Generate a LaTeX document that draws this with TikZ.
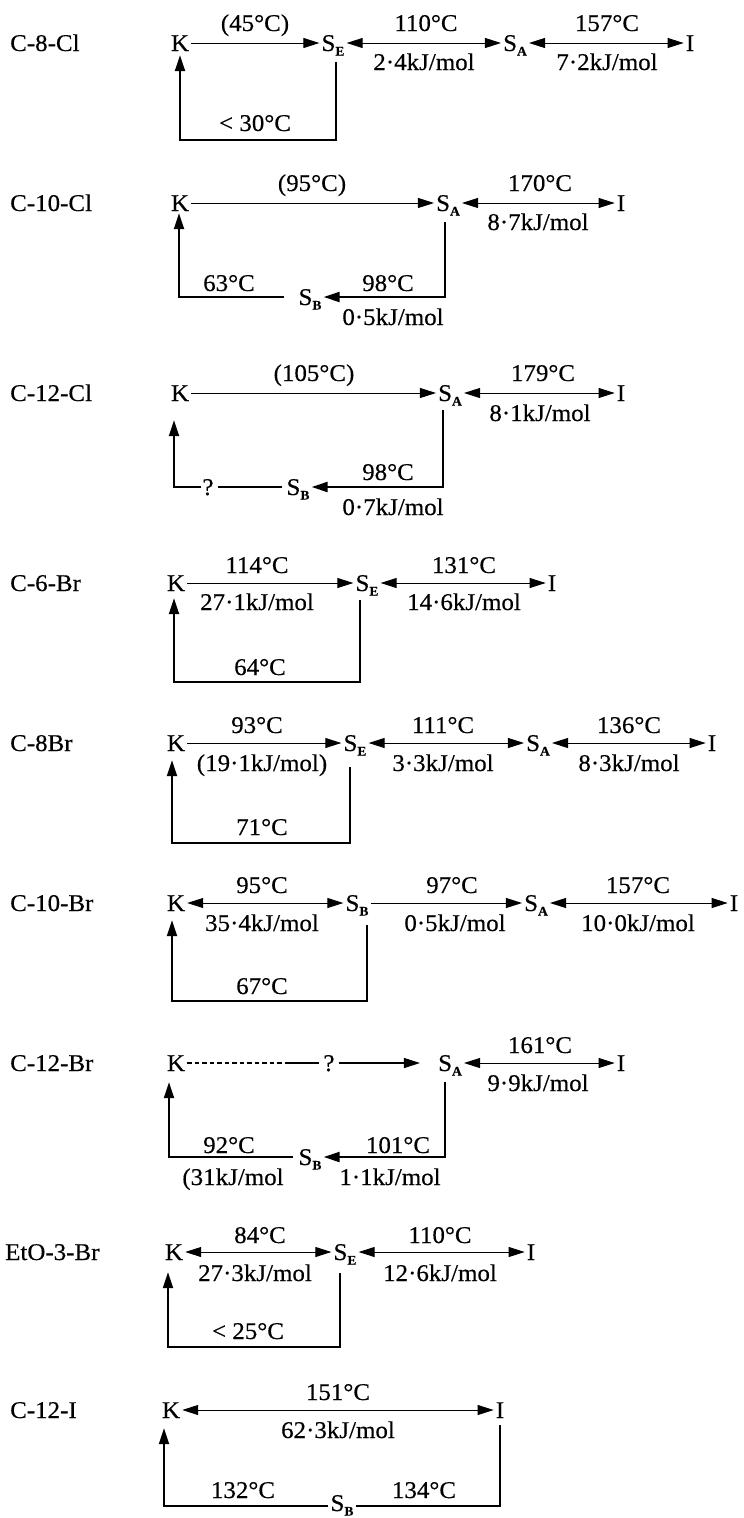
\documentclass[tikz,border=0pt]{standalone}
\usepackage{fontspec}
\setmainfont{Liberation Serif}[FakeBold=0.4, FakeStretch=1.04]
\usetikzlibrary{arrows.meta}
\newcommand{\St}[1]{S\raisebox{-4.5pt}{\fontsize{13}{13}\selectfont\bfseries #1}}
\tikzset{
  tx/.style={font=\fontsize{24}{24}\selectfont, text height=16pt, text depth=0pt, inner sep=2pt},
  lab/.style={tx, anchor=west, inner sep=0pt},
  tri/.tip={Triangle[length=16pt,width=10pt]},
  harr/.style={line width=0.9pt, -tri},
  darr/.style={line width=0.9pt, tri-tri},
  thk/.style={line width=2.2pt},
  thkarr/.style={line width=2.2pt, -tri},
}
\begin{document}
\begin{tikzpicture}[x=1pt,y=-1pt]
\useasboundingbox (0,0) rectangle (744,1518);
% ---------- Row 1: C-8-Cl ----------
\node[lab] (L1) at (10,43) {C-8-Cl};
\node[tx] (K1) at (180,43) {K};
\node[tx] (SE1) at (333,43) {\St{E}};
\node[tx] (SA1) at (515,43) {\St{A}};
\node[tx] (I1) at (690,43) {I};
\draw[harr] (K1) -- (SE1);
\draw[darr] (SE1) -- (SA1);
\draw[darr] (SA1) -- (I1);
\node[tx] (t1a) at (255,23) {(45°C)};
\node[tx] (t1b) at (426,23) {110°C};
\node[tx] (t1c) at (424,62) {2·4kJ/mol};
\node[tx] (t1d) at (607,23) {157°C};
\node[tx] (t1e) at (607,62) {7·2kJ/mol};
\coordinate (b1r) at (336,140);
\coordinate (b1l) at (180,140);
\draw[thkarr, shorten <=9pt, shorten >=2pt] (SE1.south -| b1r) -- (b1r) -- (b1l) -- (b1l |- K1.south);
\node[tx] (t1f) at (255,123) {< 30°C};
% ---------- Row 2: C-10-Cl ----------
\node[lab] (L2) at (10,203) {C-10-Cl};
\node[tx] (K2) at (180,203) {K};
\node[tx] (SA2) at (448,203) {\St{A}};
\node[tx] (I2) at (621,203) {I};
\node[tx] (SB2) at (310,297) {\St{B}};
\draw[harr] (K2) -- (SA2);
\draw[darr] (SA2) -- (I2);
\node[tx] (t2a) at (312,183) {(95°C)};
\node[tx] (t2b) at (540,183) {170°C};
\node[tx] (t2c) at (538,222) {8·7kJ/mol};
\coordinate (c2) at (445,297);
\draw[thkarr, shorten <=9pt, shorten >=0pt] (SA2.south -| c2) -- (c2) -- (SB2.east);
\coordinate (b2l) at (179,297);
\draw[thkarr, shorten <=12pt, shorten >=0pt] (SB2.west) -- (b2l) -- (b2l |- K2.south);
\node[tx] (t2d) at (388,283) {98°C};
\node[tx] (t2e) at (393,317) {0·5kJ/mol};
\node[tx] (t2f) at (229,283) {63°C};
% ---------- Row 3: C-12-Cl ----------
\node[lab] (L3) at (10,393) {C-12-Cl};
\node[tx] (K3) at (180,393) {K};
\node[tx] (SA3) at (450,393) {\St{A}};
\node[tx] (I3) at (621,393) {I};
\node[tx] (SB3) at (298,487) {\St{B}};
\node[tx, inner sep=1pt] (Q3) at (208,487) {?};
\draw[harr] (K3) -- (SA3);
\draw[darr] (SA3) -- (I3);
\node[tx] (t3a) at (314,373) {(105°C)};
\node[tx] (t3b) at (543,373) {179°C};
\node[tx] (t3c) at (540,413) {8·1kJ/mol};
\coordinate (c3) at (443,487);
\draw[thkarr, shorten <=7pt] (SA3.south -| c3) -- (c3) -- (SB3.east);
\draw[thk, shorten <=2pt, shorten >=3pt] (SB3.west) -- (Q3.east);
\coordinate (b3l) at (174,487);
\draw[thkarr, shorten >=17pt] (Q3.west) -- (b3l) -- (b3l |- K3.south);
\node[tx] (t3d) at (388,472) {98°C};
\node[tx] (t3e) at (393,507) {0·7kJ/mol};
% ---------- Row 4: C-6-Br ----------
\node[lab] (L4) at (10,583) {C-6-Br};
\node[tx] (K4) at (176,583) {K};
\node[tx] (SE4) at (367,583) {\St{E}};
\node[tx] (I4) at (552,583) {I};
\draw[harr] (K4) -- (SE4);
\draw[darr] (SE4) -- (I4);
\node[tx] (t4a) at (257,565) {114°C};
\node[tx] (t4b) at (257,602) {27·1kJ/mol};
\node[tx] (t4c) at (464,565) {131°C};
\node[tx] (t4d) at (464,602) {14·6kJ/mol};
\coordinate (b4r) at (360,682);
\coordinate (b4l) at (174,682);
\draw[thkarr, shorten <=7pt, shorten >=5pt] (SE4.south -| b4r) -- (b4r) -- (b4l) -- (b4l |- K4.south);
\node[tx] (t4e) at (260,667) {64°C};
% ---------- Row 5: C-8Br ----------
\node[lab] (L5) at (10,743) {C-8Br};
\node[tx] (K5) at (176,743) {K};
\node[tx] (SE5) at (355,743) {\St{E}};
\node[tx] (SA5) at (538,743) {\St{A}};
\node[tx] (I5) at (712,743) {I};
\draw[harr] (K5) -- (SE5);
\draw[darr] (SE5) -- (SA5);
\draw[darr] (SA5) -- (I5);
\node[tx] (t5a) at (257,725) {93°C};
\node[tx] (t5b) at (262,763) {(19·1kJ/mol)};
\node[tx] (t5c) at (443,725) {111°C};
\node[tx] (t5d) at (443,763) {3·3kJ/mol};
\node[tx] (t5e) at (629,725) {136°C};
\node[tx] (t5f) at (629,763) {8·3kJ/mol};
\coordinate (b5r) at (350,843);
\coordinate (b5l) at (172,843);
\draw[thkarr, shorten <=14pt, shorten >=7pt] (SE5.south -| b5r) -- (b5r) -- (b5l) -- (b5l |- K5.south);
\node[tx] (t5g) at (262,827) {71°C};
% ---------- Row 6: C-10-Br ----------
\node[lab] (L6) at (10,903) {C-10-Br};
\node[tx] (K6) at (176,903) {K};
\node[tx] (SB6) at (357,903) {\St{B}};
\node[tx] (SA6) at (536,903) {\St{A}};
\node[tx] (I6) at (734,903) {I};
\draw[darr] (K6) -- (SB6);
\draw[harr] (SB6) -- (SA6);
\draw[darr] (SA6) -- (I6);
\node[tx] (t6a) at (262,885) {95°C};
\node[tx] (t6b) at (262,923) {35·4kJ/mol};
\node[tx] (t6c) at (452,885) {97°C};
\node[tx] (t6d) at (455,923) {0·5kJ/mol};
\node[tx] (t6e) at (638,885) {157°C};
\node[tx] (t6f) at (638,923) {10·0kJ/mol};
\coordinate (b6r) at (367,1001);
\coordinate (b6l) at (172,1001);
\draw[thkarr, shorten <=12pt, shorten >=7pt] (SB6.south -| b6r) -- (b6r) -- (b6l) -- (b6l |- K6.south);
\node[tx] (t6g) at (262,986) {67°C};
% ---------- Row 7: C-12-Br ----------
\node[lab] (L7) at (10,1063) {C-12-Br};
\node[tx] (K7) at (176,1063) {K};
\node[tx, inner sep=1pt] (Q7) at (329,1063) {?};
\node[tx] (SA7) at (450,1063) {\St{A}};
\node[tx] (I7) at (621,1063) {I};
\node[tx] (SB7) at (310,1157) {\St{B}};
\coordinate (m7) at (286,1063);
\draw[line width=1.1pt, dash pattern=on 4.5pt off 3pt] (K7.east) -- (m7);
\draw[line width=1.1pt, shorten >=3pt] (m7) -- (Q7.west);
\draw[harr, line width=1.1pt, shorten <=3pt, shorten >=16pt] (Q7.east) -- (SA7.west);
\draw[darr] (SA7) -- (I7);
\node[tx] (t7a) at (540,1045) {161°C};
\node[tx] (t7b) at (538,1083) {9·9kJ/mol};
\coordinate (c7) at (445,1157);
\draw[thkarr, shorten <=9pt] (SA7.south -| c7) -- (c7) -- (SB7.east);
\coordinate (b7l) at (169,1157);
\draw[thkarr, shorten <=3pt, shorten >=9pt] (SB7.west) -- (b7l) -- (b7l |- K7.south);
\node[tx] (t7c) at (398,1145) {101°C};
\node[tx] (t7d) at (390,1177) {1·1kJ/mol};
\node[tx] (t7e) at (229,1145) {92°C};
\node[tx] (t7f) at (233,1177) {(31kJ/mol};
% ---------- Row 8: EtO-3-Br ----------
\node[lab] (L8) at (5,1252) {EtO-3-Br};
\node[tx] (K8) at (174,1252) {K};
\node[tx] (SE8) at (345,1252) {\St{E}};
\node[tx] (I8) at (531,1252) {I};
\draw[darr] (K8) -- (SE8);
\draw[darr] (SE8) -- (I8);
\node[tx] (t8a) at (260,1235) {84°C};
\node[tx] (t8b) at (255,1273) {27·3kJ/mol};
\node[tx] (t8c) at (440,1235) {110°C};
\node[tx] (t8d) at (440,1273) {12·6kJ/mol};
\coordinate (b8r) at (340,1347);
\coordinate (b8l) at (168,1347);
\draw[thkarr, shorten <=11pt, shorten >=10pt] (SE8.south -| b8r) -- (b8r) -- (b8l) -- (b8l |- K8.south);
\node[tx] (t8e) at (248,1331) {< 25°C};
% ---------- Row 9: C-12-I ----------
\node[lab] (L9) at (10,1410) {C-12-I};
\node[tx] (K9) at (171,1410) {K};
\node[tx] (I9) at (500,1410) {I};
\node[tx] (SB9) at (342,1503) {\St{B}};
\draw[darr] (K9) -- (I9);
\node[tx] (t9a) at (338,1392) {151°C};
\node[tx] (t9b) at (338,1430) {62·3kJ/mol};
\coordinate (b9r) at (500,1506);
\coordinate (b9l) at (164,1506);
\draw[thk, shorten <=5pt] (I9.south) -- (b9r) -- (SB9.east |- b9r);
\draw[thkarr, shorten >=8pt] (SB9.west |- b9l) -- (b9l) -- (b9l |- K9.south);
\node[tx] (t9c) at (243,1490) {132°C};
\node[tx] (t9d) at (424,1490) {134°C};
\end{tikzpicture}
\end{document}
